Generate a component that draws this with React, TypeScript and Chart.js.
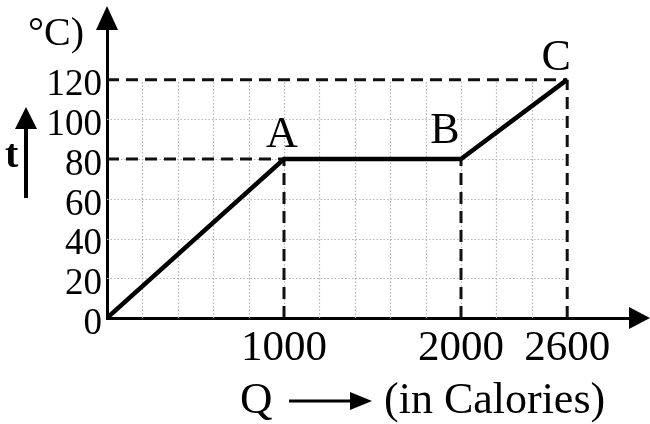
import React, { useEffect, useRef } from "react";
import { Chart, registerables } from "chart.js";

Chart.register(...registerables);

// ---- data ----
const POINT_LABELS = ["", "A", "B", "C"];
const Q_VALUES = [0, 1000, 2000, 2600];
const T_VALUES = [0, 80, 80, 120];
const X_TICKS = [1000, 2000, 2600];
const Y_TICKS = [0, 20, 40, 60, 80, 100, 120];
const GRID_X = [200, 400, 600, 800, 1000, 1200, 1400, 1600, 1800, 2000, 2200, 2400];
const GRID_Y = [20, 40, 60, 80, 100];
const H_GUIDE_INDEX = [1, 3]; // A and C get a horizontal dashed guide
const V_GUIDE_INDEX = [1, 2, 3]; // A, B, C get vertical dashed guides
const X_TITLE_LEFT = "Q";
const X_TITLE_RIGHT = "(in Calories)";
const Y_TITLE = "t";
const Y_UNIT = "°C)";

const SERIF = "'Liberation Serif', 'DejaVu Serif', serif";

export default function App() {
  const ref = useRef<HTMLCanvasElement | null>(null);

  useEffect(() => {
    const canvas = ref.current;
    if (!canvas) return;

    const guides: any[] = [];
    H_GUIDE_INDEX.forEach((i) => {
      guides.push({
        data: [
          { x: 0, y: T_VALUES[i] },
          { x: Q_VALUES[i], y: T_VALUES[i] },
        ],
      });
    });
    V_GUIDE_INDEX.forEach((i) => {
      guides.push({
        data: [
          { x: Q_VALUES[i], y: 0 },
          { x: Q_VALUES[i], y: T_VALUES[i] },
        ],
      });
    });

    const guideDatasets = guides.map((g) => ({
      type: "line" as const,
      data: g.data,
      borderColor: "#111",
      borderWidth: 3,
      borderDash: [12, 7],
      pointRadius: 0,
      fill: false,
      tension: 0,
    }));

    const decor = {
      id: "decor",
      beforeDraw(chart: any) {
        const ctx = chart.ctx;
        ctx.save();
        ctx.fillStyle = "#fff";
        ctx.fillRect(0, 0, chart.width, chart.height);
        ctx.restore();
      },
      beforeDatasetsDraw(chart: any) {
        const ctx = chart.ctx;
        const xs = chart.scales.x;
        const ys = chart.scales.y;
        const xMax = Q_VALUES[Q_VALUES.length - 1];
        const yMax = Math.max(...T_VALUES);
        ctx.save();
        ctx.strokeStyle = "#b4b4b4";
        ctx.lineWidth = 1.2;
        ctx.setLineDash([1.5, 2]);
        GRID_X.forEach((v) => {
          const px = Math.round(xs.getPixelForValue(v)) + 0.5;
          ctx.beginPath();
          ctx.moveTo(px, ys.getPixelForValue(0));
          ctx.lineTo(px, ys.getPixelForValue(yMax));
          ctx.stroke();
        });
        GRID_Y.forEach((v) => {
          const py = Math.round(ys.getPixelForValue(v)) + 0.5;
          ctx.beginPath();
          ctx.moveTo(xs.getPixelForValue(0), py);
          ctx.lineTo(xs.getPixelForValue(xMax), py);
          ctx.stroke();
        });
        ctx.restore();
      },
      afterDraw(chart: any) {
        const ctx = chart.ctx;
        const xs = chart.scales.x;
        const ys = chart.scales.y;
        const area = chart.chartArea;
        ctx.save();
        ctx.fillStyle = "#000";
        ctx.strokeStyle = "#000";

        // axis arrow heads
        const ox = xs.getPixelForValue(0);
        const oy = ys.getPixelForValue(0);
        ctx.beginPath();
        ctx.moveTo(ox, 6);
        ctx.lineTo(ox - 11, 30);
        ctx.lineTo(ox + 11, 30);
        ctx.closePath();
        ctx.fill();
        ctx.lineWidth = 3;
        ctx.beginPath();
        ctx.moveTo(ox, 30);
        ctx.lineTo(ox, area.top);
        ctx.stroke();

        ctx.beginPath();
        ctx.moveTo(650, oy);
        ctx.lineTo(629, oy - 11);
        ctx.lineTo(629, oy + 11);
        ctx.closePath();
        ctx.fill();

        // point labels
        ctx.font = `44px ${SERIF}`;
        ctx.textAlign = "center";
        ctx.textBaseline = "alphabetic";
        const offs = [
          [0, 0],
          [-2, -12],
          [-16, -16],
          [-11, -10],
        ];
        POINT_LABELS.forEach((lab, i) => {
          if (!lab) return;
          const px = xs.getPixelForValue(Q_VALUES[i]);
          const py = ys.getPixelForValue(T_VALUES[i]);
          ctx.fillText(lab, px + offs[i][0], py + offs[i][1]);
        });

        // x title: Q ---> (in Calories)
        ctx.font = `45px ${SERIF}`;
        ctx.textAlign = "left";
        ctx.fillText(X_TITLE_LEFT, 240, 413);
        ctx.lineWidth = 3;
        ctx.beginPath();
        ctx.moveTo(289, 401);
        ctx.lineTo(356, 401);
        ctx.stroke();
        ctx.beginPath();
        ctx.moveTo(372, 401);
        ctx.lineTo(350, 392);
        ctx.lineTo(350, 410);
        ctx.closePath();
        ctx.fill();
        ctx.font = `44px ${SERIF}`;
        ctx.fillText(X_TITLE_RIGHT, 384, 413);

        // y title: t with upward arrow
        ctx.font = `bold 40px ${SERIF}`;
        ctx.fillText(Y_TITLE, 5, 167);
        ctx.lineWidth = 4;
        ctx.beginPath();
        ctx.moveTo(26, 198);
        ctx.lineTo(26, 125);
        ctx.stroke();
        ctx.beginPath();
        ctx.moveTo(26, 107);
        ctx.lineTo(15, 129);
        ctx.lineTo(37, 129);
        ctx.closePath();
        ctx.fill();

        // unit, cropped at the top-left
        ctx.font = `40px ${SERIF}`;
        ctx.fillText(Y_UNIT, 28, 45);
        ctx.restore();
      },
    };

    const chart = new Chart(canvas, {
      type: "line",
      data: {
        datasets: [
          {
            data: Q_VALUES.map((q, i) => ({ x: q, y: T_VALUES[i] })),
            borderColor: "#000",
            borderWidth: 4.5,
            pointRadius: 0,
            fill: false,
            tension: 0,
          },
          ...guideDatasets,
        ],
      },
      options: {
        animation: false,
        responsive: false,
        layout: { padding: { left: 0, top: 30, right: 12, bottom: 0 } },
        plugins: { legend: { display: false }, tooltip: { enabled: false } },
        scales: {
          x: {
            type: "linear",
            min: 0,
            max: 3000,
            afterBuildTicks: (s: any) => {
              s.ticks = X_TICKS.map((v) => ({ value: v }));
            },
            afterFit: (s: any) => {
              s.height = 106;
            },
            grid: { display: false, drawTicks: false },
            border: { display: true, color: "#000", width: 3 },
            ticks: {
              color: "#000",
              font: { family: SERIF, size: 43 },
              padding: 5,
              maxRotation: 0,
              autoSkip: false,
              callback: (v: any) => String(v),
            },
          },
          y: {
            type: "linear",
            min: 0,
            max: 145,
            afterBuildTicks: (s: any) => {
              s.ticks = Y_TICKS.map((v) => ({ value: v }));
            },
            afterFit: (s: any) => {
              s.width = 107;
            },
            grid: { display: false, drawTicks: false },
            border: { display: true, color: "#000", width: 3 },
            ticks: {
              color: "#000",
              font: { family: SERIF, size: 37 },
              padding: 5,
              labelOffset: 6,
              autoSkip: false,
              callback: (v: any) => String(v),
            },
          },
        },
      },
      plugins: [decor],
    } as any);

    return () => chart.destroy();
  }, []);

  return (
    <div style={{ position: "fixed", left: 0, top: 0, width: 650, height: 424 }}>
      <canvas ref={ref} width={650} height={424} />
    </div>
  );
}
